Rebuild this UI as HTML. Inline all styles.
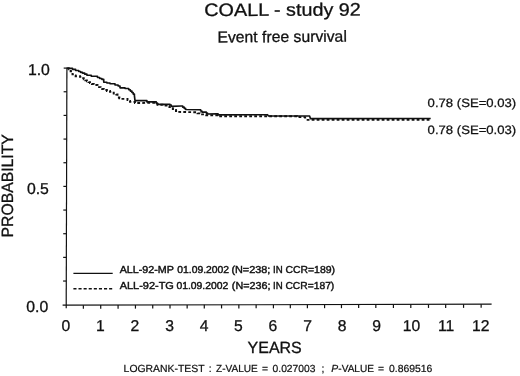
<!DOCTYPE html>
<html><head><meta charset="utf-8"><title>COALL - study 92</title>
<style>
html,body{margin:0;padding:0;background:#fff;}
body{width:520px;height:376px;overflow:hidden;font-family:"Liberation Sans",sans-serif;}
svg{display:block;}
text{font-family:"Liberation Sans",sans-serif;fill:#111;stroke:#111;stroke-width:0.3px;text-rendering:geometricPrecision;}
svg{filter:grayscale(1);}
</style></head><body>
<svg width="520" height="376" viewBox="0 0 520 376">
<rect width="520" height="376" fill="#fff"/>
<g stroke="#111" stroke-width="1.2" fill="none">
<path d="M66.9,67.6 L66.2,308.2" />
<path d="M62.6,305.2 L491.6,304.2" />
<path d="M63.07,281.04 L66.27,281.04" />
<path d="M63.14,257.38 L66.34,257.38" />
<path d="M63.21,233.72 L66.41,233.72" />
<path d="M63.28,210.06 L66.48,210.06" />
<path d="M63.35,186.40 L66.55,186.40" />
<path d="M63.42,162.74 L66.62,162.74" />
<path d="M63.49,139.08 L66.69,139.08" />
<path d="M63.56,115.42 L66.76,115.42" />
<path d="M63.63,91.76 L66.83,91.76" />
<path d="M63.70,68.10 L66.90,68.10" />
<path d="M83.36,305.15 L83.36,308.75" />
<path d="M100.72,305.11 L100.72,308.71" />
<path d="M118.08,305.07 L118.08,308.67" />
<path d="M135.44,305.03 L135.44,308.63" />
<path d="M152.73,304.99 L152.73,308.59" />
<path d="M170.01,304.95 L170.01,308.55" />
<path d="M187.15,304.91 L187.15,308.51" />
<path d="M204.28,304.87 L204.28,308.47" />
<path d="M221.56,304.83 L221.56,308.43" />
<path d="M238.85,304.79 L238.85,308.39" />
<path d="M256.13,304.75 L256.13,308.35" />
<path d="M273.42,304.71 L273.42,308.31" />
<path d="M290.31,304.67 L290.31,308.27" />
<path d="M307.39,304.63 L307.39,308.23" />
<path d="M324.57,304.59 L324.57,308.19" />
<path d="M341.46,304.55 L341.46,308.15" />
<path d="M358.65,304.51 L358.65,308.11" />
<path d="M375.83,304.47 L375.83,308.07" />
<path d="M393.42,304.43 L393.42,308.03" />
<path d="M410.80,304.39 L410.80,307.99" />
<path d="M428.49,304.35 L428.49,307.95" />
<path d="M445.67,304.31 L445.67,307.91" />
<path d="M463.56,304.27 L463.56,307.87" />
<path d="M481.14,304.22 L481.14,307.82" />
</g>
<path d="M67.20,68.20 L68.75,68.20 L68.75,69.40 L70.60,69.40 L70.60,71.25 L72.50,71.25 L72.50,74.40 L74.05,74.40 L74.05,75.33 L75.60,75.33 L75.60,76.25 L80.00,76.25 L80.00,76.90 L81.88,76.90 L81.88,78.15 L83.75,78.15 L83.75,79.40 L85.33,79.40 L85.33,80.33 L86.90,80.33 L86.90,81.25 L88.45,81.25 L88.45,82.17 L90.00,82.17 L90.00,83.10 L91.88,83.10 L91.88,84.05 L93.75,84.05 L93.75,85.00 L97.50,85.00 L97.50,86.25 L99.05,86.25 L99.05,87.17 L100.60,87.17 L100.60,88.10 L102.17,88.10 L102.17,89.05 L103.75,89.05 L103.75,90.00 L106.88,90.00 L106.88,90.95 L110.00,90.95 L110.00,91.90 L111.88,91.90 L111.88,92.70 L113.75,92.70 L113.75,93.50 L116.30,93.50 L116.30,94.50 L117.50,94.50 L117.50,97.50 L119.38,97.50 L119.38,98.20 L121.25,98.20 L121.25,98.90 L127.50,98.90 L127.50,100.00 L128.75,100.00 L128.75,100.95 L130.00,100.95 L130.00,101.90 L135.00,101.90 L135.00,103.10 L146.00,102.90 L155.00,102.90 L156.25,102.90 L156.25,103.85 L157.50,103.85 L157.50,104.80 L162.50,104.80 L162.50,105.53 L167.50,105.53 L167.50,106.25 L169.38,106.25 L169.38,107.17 L171.25,107.17 L171.25,108.10 L172.82,108.10 L172.82,109.05 L174.40,109.05 L174.40,110.00 L175.95,110.00 L175.95,110.95 L177.50,110.95 L177.50,111.90 L195.00,112.25 L197.50,112.25 L197.50,113.33 L200.00,113.33 L200.00,114.40 L206.25,114.40 L206.25,115.20 L216.25,115.20 L218.75,115.20 L218.75,116.30 L267.50,116.30 L297.00,116.30 L297.00,117.00 L305.00,117.20 L306.00,119.90 L430.70,119.80" stroke="#111" stroke-width="1.9" fill="none" stroke-dasharray="2.8 2.2"/>
<path d="M67.20,68.20 L72.50,68.20 L72.50,69.40 L75.62,69.40 L75.62,70.45 L78.75,70.45 L78.75,71.50 L80.62,71.50 L80.62,72.30 L82.50,72.30 L82.50,73.10 L84.70,73.10 L84.70,74.17 L86.90,74.17 L86.90,75.25 L91.25,75.25 L91.25,76.25 L97.50,76.25 L97.50,77.50 L99.70,77.50 L99.70,78.45 L101.90,78.45 L101.90,79.40 L103.75,79.40 L103.75,82.25 L106.88,82.25 L106.88,83.00 L110.00,83.00 L110.00,83.75 L115.00,83.75 L115.00,85.00 L118.10,85.00 L118.10,86.00 L120.00,86.00 L120.00,87.80 L125.00,87.80 L125.00,88.50 L128.75,88.50 L128.75,89.75 L130.32,89.75 L130.32,91.12 L131.90,91.12 L131.90,92.50 L133.15,92.50 L133.15,94.05 L134.40,94.05 L134.40,95.60 L135.00,100.60 L145.00,100.60 L146.90,100.60 L146.90,101.90 L155.00,101.90 L156.25,101.90 L156.25,103.15 L157.50,103.15 L157.50,104.40 L170.00,104.40 L170.00,105.00 L171.25,105.00 L171.25,106.40 L181.25,106.00 L182.70,106.00 L182.70,107.17 L184.15,107.17 L184.15,108.33 L185.60,108.33 L185.60,109.50 L199.40,109.80 L200.65,109.80 L200.65,110.95 L201.90,110.95 L201.90,112.10 L205.00,112.10 L206.25,112.10 L206.25,113.05 L207.50,113.05 L207.50,114.00 L216.25,113.90 L218.10,113.90 L218.10,114.90 L267.50,114.70 L268.50,116.00 L309.60,116.00 L310.40,118.60 L430.70,118.50" stroke="#111" stroke-width="1.65" fill="none" stroke-linejoin="round"/>
<path d="M73.4,273.3 L112.7,273.3" stroke="#111" stroke-width="1.3" fill="none"/>
<path d="M73.4,288.7 L112.7,288.7" stroke="#111" stroke-width="1.4" fill="none" stroke-dasharray="3.1 2.0"/>
<text x="204.3" y="16.0" font-size="17.9" text-anchor="start" textLength="156.5" lengthAdjust="spacingAndGlyphs" transform="rotate(-0.15 204 16)">COALL - study 92</text>
<text x="217.4" y="42.5" font-size="15.8" text-anchor="start" textLength="129.5" lengthAdjust="spacingAndGlyphs" transform="rotate(-0.42 217 42.5)">Event free survival</text>
<text x="49.9" y="74.5" font-size="15.8" text-anchor="end">1.0</text>
<text x="48.9" y="193.6" font-size="15.8" text-anchor="end">0.5</text>
<text x="48.3" y="311.5" font-size="15.8" text-anchor="end">0.0</text>
<text transform="translate(13.1,237.4) rotate(-90)" font-size="16.4" textLength="103.2" lengthAdjust="spacingAndGlyphs">PROBABILITY</text>
<text x="65.85" y="331.4" font-size="15.7" text-anchor="middle">0</text>
<text x="100.42" y="331.4" font-size="15.7" text-anchor="middle">1</text>
<text x="134.99" y="331.4" font-size="15.7" text-anchor="middle">2</text>
<text x="169.56" y="331.4" font-size="15.7" text-anchor="middle">3</text>
<text x="204.13" y="331.4" font-size="15.7" text-anchor="middle">4</text>
<text x="238.4" y="331.4" font-size="15.7" text-anchor="middle">5</text>
<text x="272.97" y="331.4" font-size="15.7" text-anchor="middle">6</text>
<text x="307.54" y="331.4" font-size="15.7" text-anchor="middle">7</text>
<text x="342.11" y="331.4" font-size="15.7" text-anchor="middle">8</text>
<text x="376.68" y="331.4" font-size="15.7" text-anchor="middle">9</text>
<text x="411.55" y="331.4" font-size="15.7" text-anchor="middle">10</text>
<text x="446.12" y="331.4" font-size="15.7" text-anchor="middle">11</text>
<text x="480.69" y="331.4" font-size="15.7" text-anchor="middle">12</text>
<text x="247.6" y="353.3" font-size="16.2" text-anchor="start" textLength="54.2" lengthAdjust="spacingAndGlyphs">YEARS</text>
<text x="119.7" y="273.4" font-size="10.1" text-anchor="start" textLength="54.2" lengthAdjust="spacingAndGlyphs" style="stroke-width:0.42px">ALL-92-MP</text>
<text x="177.3" y="273.4" font-size="10.1" text-anchor="start" textLength="51.8" lengthAdjust="spacingAndGlyphs" style="stroke-width:0.42px">01.09.2002</text>
<text x="231.4" y="273.4" font-size="10.1" text-anchor="start" textLength="39.0" lengthAdjust="spacingAndGlyphs" style="stroke-width:0.42px">(N=238;</text>
<text x="273.0" y="273.4" font-size="10.1" text-anchor="start" textLength="9.6" lengthAdjust="spacingAndGlyphs" style="stroke-width:0.42px">IN</text>
<text x="285.4" y="273.4" font-size="10.1" text-anchor="start" textLength="49.6" lengthAdjust="spacingAndGlyphs" style="stroke-width:0.42px">CCR=189)</text>
<text x="119.7" y="288.5" font-size="10.1" text-anchor="start" textLength="54.2" lengthAdjust="spacingAndGlyphs" style="stroke-width:0.42px">ALL-92-TG</text>
<text x="176.4" y="288.5" font-size="10.1" text-anchor="start" textLength="51.8" lengthAdjust="spacingAndGlyphs" style="stroke-width:0.42px">01.09.2002</text>
<text x="231.8" y="288.5" font-size="10.1" text-anchor="start" textLength="38.6" lengthAdjust="spacingAndGlyphs" style="stroke-width:0.42px">(N=236;</text>
<text x="273.0" y="288.5" font-size="10.1" text-anchor="start" textLength="9.6" lengthAdjust="spacingAndGlyphs" style="stroke-width:0.42px">IN</text>
<text x="285.4" y="288.5" font-size="10.1" text-anchor="start" textLength="48.9" lengthAdjust="spacingAndGlyphs" style="stroke-width:0.42px">CCR=187)</text>
<text x="123.6" y="372.4" font-size="10.35" text-anchor="start" textLength="81.0" lengthAdjust="spacingAndGlyphs" style="stroke-width:0.22px">LOGRANK-TEST</text>
<text x="208.8" y="372.4" font-size="10.35" text-anchor="start" style="stroke-width:0.22px">:</text>
<text x="216.0" y="372.4" font-size="10.35" text-anchor="start" textLength="41.8" lengthAdjust="spacingAndGlyphs" style="stroke-width:0.22px">Z-VALUE</text>
<text x="262.0" y="372.4" font-size="10.35" text-anchor="start" style="stroke-width:0.22px">=</text>
<text x="272.6" y="372.4" font-size="10.35" text-anchor="start" textLength="42.8" lengthAdjust="spacingAndGlyphs" style="stroke-width:0.22px">0.027003</text>
<text x="321.6" y="372.4" font-size="10.35" text-anchor="start" style="stroke-width:0.22px">;</text>
<text x="331.3" y="372.4" font-size="10.35" text-anchor="start" font-style="italic" style="stroke-width:0.22px">P</text>
<text x="338.3" y="372.4" font-size="10.35" text-anchor="start" textLength="35.7" lengthAdjust="spacingAndGlyphs" style="stroke-width:0.22px">-VALUE</text>
<text x="377.9" y="372.4" font-size="10.35" text-anchor="start" style="stroke-width:0.22px">=</text>
<text x="389.0" y="372.4" font-size="10.35" text-anchor="start" textLength="43.4" lengthAdjust="spacingAndGlyphs" style="stroke-width:0.22px">0.869516</text>
<text x="427.6" y="106.7" font-size="12.1" text-anchor="start" textLength="88.6" lengthAdjust="spacingAndGlyphs" style="stroke-width:0.25px">0.78 (SE=0.03)</text>
<text x="427.6" y="133.6" font-size="12.1" text-anchor="start" textLength="88.6" lengthAdjust="spacingAndGlyphs" style="stroke-width:0.25px">0.78 (SE=0.03)</text>
</svg>
</body></html>
